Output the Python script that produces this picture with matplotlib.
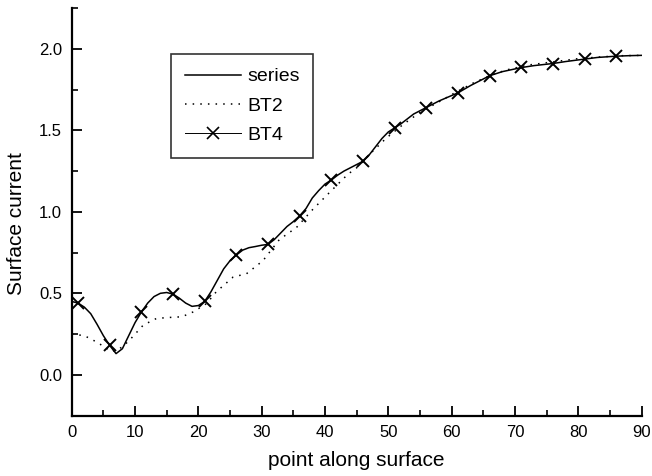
import matplotlib.pyplot as plt
from matplotlib.lines import Line2D

plt.rcParams['font.family'] = ['Liberation Sans', 'DejaVu Sans']

# series (solid curve)
series_x = [0, 1, 2, 3, 4, 5, 6, 7, 8, 9, 10, 11, 12, 13, 14, 15, 16, 17, 18, 19,
            20, 21, 22, 23, 24, 25, 26, 27, 28, 29, 30, 31, 32, 33, 34, 35, 36, 37,
            38, 39, 40, 41, 42, 43, 44, 45, 46, 47, 48, 49, 50, 51, 52, 53, 54, 55,
            56, 58, 61, 63, 66, 68, 71, 73, 76, 78, 81, 83, 86, 88, 90]
series_y = [0.45, 0.44, 0.415, 0.375, 0.31, 0.24, 0.18, 0.13, 0.16, 0.24, 0.32, 0.385,
            0.44, 0.48, 0.50, 0.505, 0.495, 0.47, 0.44, 0.42, 0.425, 0.45, 0.51, 0.58,
            0.65, 0.70, 0.735, 0.765, 0.78, 0.787, 0.795, 0.80, 0.83, 0.87, 0.91, 0.94,
            0.975, 1.02, 1.085, 1.13, 1.17, 1.195, 1.225, 1.25, 1.27, 1.29, 1.31, 1.35,
            1.40, 1.45, 1.49, 1.515, 1.54, 1.57, 1.60, 1.62, 1.64, 1.68, 1.73, 1.775,
            1.835, 1.86, 1.885, 1.897, 1.91, 1.922, 1.937, 1.947, 1.955, 1.958, 1.96]

# BT2 (dotted curve)
bt2_x = [0, 2, 4, 6.3, 8, 9.4, 11.3, 13.4, 15.5, 17.4, 19.2, 21.3, 22.8, 25.5, 27.6,
         30.2, 32.8, 35.5, 38.1, 40.7, 43.6, 45, 47.5, 49.7, 52.3, 55, 58.1, 60.5,
         63.4, 66, 68.6, 72, 76, 80, 83.7, 87, 90]
bt2_y = [0.25, 0.24, 0.2, 0.142, 0.17, 0.224, 0.305, 0.346, 0.352, 0.356, 0.386, 0.437,
         0.508, 0.60, 0.62, 0.70, 0.83, 0.904, 1.016, 1.118, 1.23, 1.27, 1.37, 1.453,
         1.535, 1.61, 1.677, 1.73, 1.79, 1.835, 1.87, 1.90, 1.92, 1.94, 1.951, 1.958, 1.96]

# BT4 (markers)
bt4_x = [1, 6, 11, 16, 21, 26, 31, 36, 41, 46, 51, 56, 61, 66, 71, 76, 81, 86]
bt4_y = [0.44, 0.18, 0.384, 0.498, 0.453, 0.734, 0.80, 0.974, 1.194, 1.313, 1.512,
         1.640, 1.732, 1.835, 1.886, 1.909, 1.937, 1.955]

fig = plt.figure(figsize=(6.52, 4.76), dpi=100)
ax = fig.add_axes([0.110, 0.127, 0.874, 0.856])

ax.plot(series_x, series_y, color='black', lw=1.1)
ax.plot(bt2_x, bt2_y, color='black', lw=1.1, linestyle=(0, (1, 4)))
ax.plot(bt4_x, bt4_y, color='black', linestyle='none', marker='x', ms=9, mew=1.4)

ax.set_xlim(0, 90)
ax.set_ylim(-0.25, 2.25)
ax.set_xticks(range(0, 91, 10))
ax.set_xticks(range(5, 90, 10), minor=True)
ax.set_yticks([0.0, 0.5, 1.0, 1.5, 2.0])
ax.set_yticks([-0.25, 0.25, 0.75, 1.25, 1.75, 2.25], minor=True)
ax.set_yticklabels(['0.0', '0.5', '1.0', '1.5', '2.0'])

ax.spines['right'].set_color('none')
ax.spines['top'].set_color('none')
ax.spines['left'].set_linewidth(1.6)
ax.spines['bottom'].set_linewidth(1.6)
ax.tick_params(which='major', direction='in', length=7, width=1.3, labelsize=12, pad=7)
ax.tick_params(which='minor', direction='in', length=4, width=1.2)

ax.set_xlabel('point along surface', fontsize=15, labelpad=8)
ax.set_ylabel('Surface current', fontsize=15)
ax.yaxis.set_label_coords(-0.08, 0.47)

handles = [Line2D([], [], color='black', lw=1.1),
           Line2D([], [], color='black', lw=1.1, linestyle=(0, (1, 4))),
           Line2D([], [], color='black', lw=0.7, marker='x', ms=8, mew=1.2)]
leg = ax.legend(handles, ['series', 'BT2', 'BT4'], loc='upper left',
                bbox_to_anchor=(0.175, 0.887), fontsize=14, frameon=True,
                fancybox=False, edgecolor='black', handlelength=2.9,
                handletextpad=0.3, borderpad=0.7, labelspacing=0.6, borderaxespad=0)
leg.get_frame().set_linewidth(1.2)

fig.savefig('out.png', dpi=100)
